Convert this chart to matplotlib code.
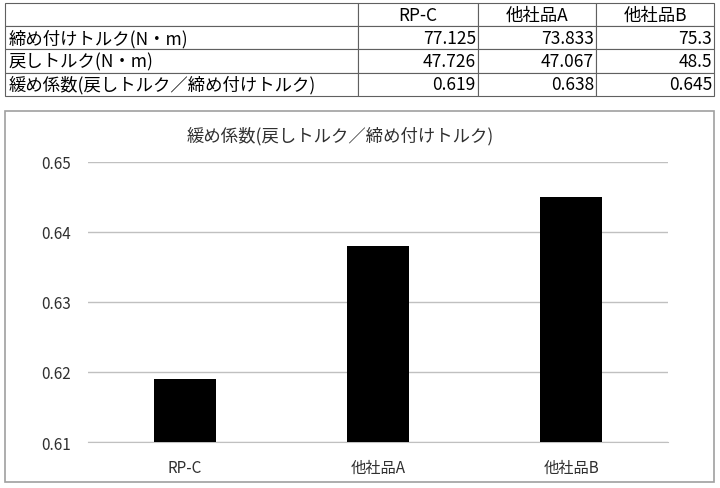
import matplotlib.pyplot as plt
from matplotlib.patches import Rectangle

plt.rcParams['font.family'] = ['Noto Sans CJK JP', 'DejaVu Sans']

products = ['RP-C', '他社品A', '他社品B']
row_labels = ['締め付けトルク(N・m)', '戻しトルク(N・m)', '緩め係数(戻しトルク／締め付けトルク)']
tighten = [77.125, 73.833, 75.3]
loosen = [47.726, 47.067, 48.5]
ratio = [0.619, 0.638, 0.645]
yticks = [0.61, 0.62, 0.63, 0.64, 0.65]
title = '緩め係数(戻しトルク／締め付けトルク)'

fig = plt.figure(figsize=(7.2, 4.89), dpi=100)

# table at top
tax = fig.add_axes([0.007, 0.802, 0.985, 0.19])
tax.axis('off')
cells = [[''] + products]
for lab, vals in zip(row_labels, [tighten, loosen, ratio]):
    cells.append([lab] + [str(v) for v in vals])
tbl = tax.table(cellText=cells, bbox=[0, 0, 1, 1],
                colWidths=[353, 120, 118, 118])
tbl.auto_set_font_size(False)
for (r, c), cell in tbl.get_celld().items():
    cell.set_edgecolor('#606060')
    cell.set_linewidth(0.8)
    cell.get_text().set_fontsize(12.5)
    cell.get_text().set_color('black')
    if r == 0:
        cell.get_text().set_ha('center')
    elif c == 0:
        cell.get_text().set_ha('left')
        cell.PAD = 0.01
    else:
        cell.get_text().set_ha('right')
        cell.PAD = 0.02

# chart frame
fig.patches.append(Rectangle((0.007, 0.012), 0.985, 0.759, transform=fig.transFigure,
                             fill=False, edgecolor='#a0a0a0', linewidth=1.2))

ax = fig.add_axes([0.122, 0.094, 0.806, 0.573])
x = range(len(products))
ax.bar(x, ratio, width=0.32, color='black', zorder=3)
ax.set_ylim(0.61, 0.65)
ax.set_xlim(-0.5, len(products) - 0.5)
ax.set_yticks(yticks)
ax.set_yticklabels(['%.2f' % v for v in yticks])
ax.set_xticks(list(x))
ax.set_xticklabels(products)
ax.yaxis.grid(True, color='#c0c0c0', linewidth=1)
ax.set_axisbelow(True)
for s in ['top', 'right', 'left']:
    ax.spines[s].set_visible(False)
ax.spines['bottom'].set_color('#c0c0c0')
ax.tick_params(axis='both', length=0, labelsize=11, colors='#303030')
ax.tick_params(axis='y', pad=12)
ax.tick_params(axis='x', pad=12)

fig.text(0.472, 0.722, title, ha='center', va='center', fontsize=12.5, color='#303030')

fig.savefig('out.png', dpi=100)
